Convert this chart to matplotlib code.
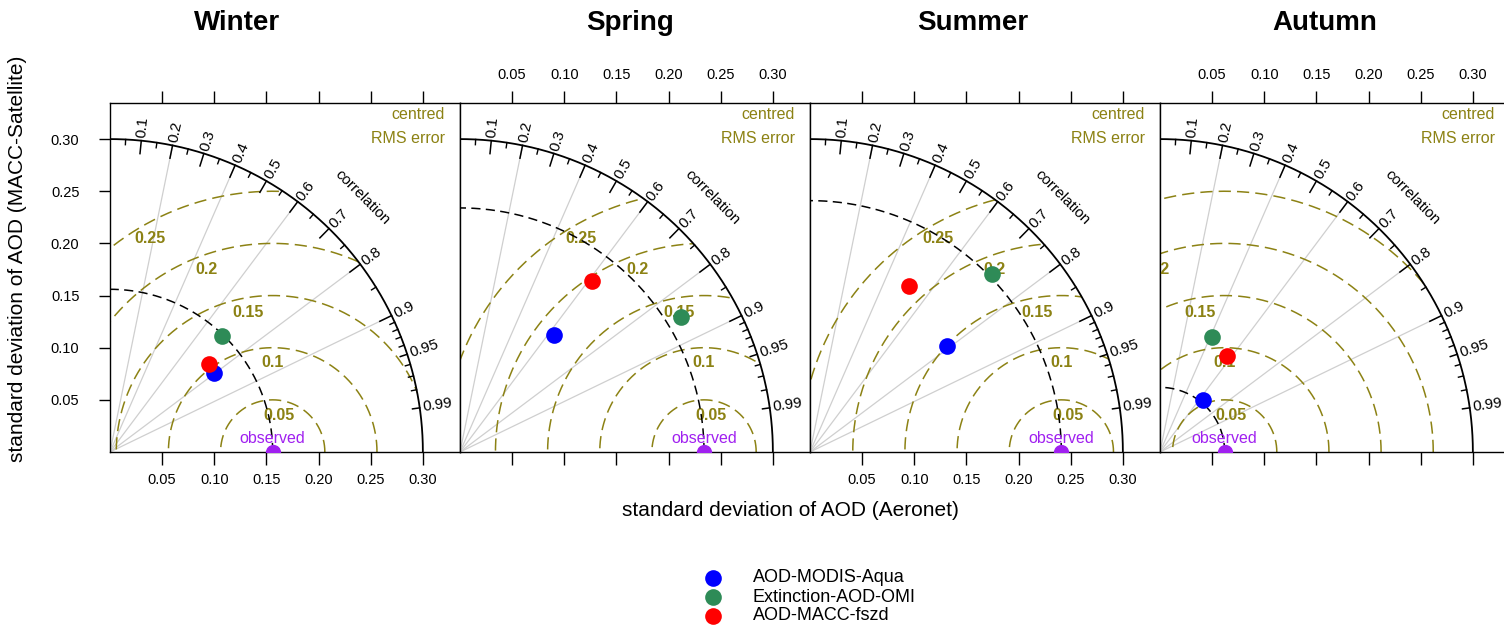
import numpy as np
import matplotlib.pyplot as plt
from matplotlib.patches import Circle
from matplotlib.lines import Line2D

plt.rcParams['font.family'] = ['Liberation Sans', 'DejaVu Sans']

seasons = ["Winter", "Spring", "Summer", "Autumn"]
models = ["AOD-MODIS-Aqua", "Extinction-AOD-OMI", "AOD-MACC-fszd"]
colours = ["#0000FF", "#2E8B57", "#FF0000"]

# standard deviation of the Aeronet AOD, per season
obs_sd = [0.156, 0.234, 0.241, 0.062]

# standard deviation / correlation of each model (rows = seasons, cols = models)
model_sd = [[0.125, 0.155, 0.127],
            [0.144, 0.248, 0.207],
            [0.166, 0.244, 0.185],
            [0.065, 0.121, 0.112]]
model_cor = [[0.795, 0.694, 0.746],
             [0.624, 0.854, 0.610],
             [0.791, 0.716, 0.511],
             [0.633, 0.409, 0.571]]

rms_levels = [0.05, 0.10, 0.15, 0.20, 0.25]
rms_labels = ["0.05", "0.1", "0.15", "0.2", "0.25"]
cor_labels = ["0.1", "0.2", "0.3", "0.4", "0.5", "0.6", "0.7", "0.8", "0.9", "0.95", "0.99"]
cor_lines = [0.2, 0.4, 0.6, 0.8, 0.9]
sd_ticks = [0.05, 0.10, 0.15, 0.20, 0.25, 0.30]
max_sd = 0.30

olive = "#8C8214"
purple = "#A020F0"

W, H = 1504, 626
fig = plt.figure(figsize=(W / 100, H / 100), dpi=100)

th = np.linspace(0, np.pi / 2, 300)
half = np.linspace(0, np.pi, 500)
minor = list(np.arange(0.05, 0.9, 0.1)) + [0.91, 0.92, 0.93, 0.94, 0.96, 0.97, 0.98]

for i, season in enumerate(seasons):
    ax = fig.add_axes([(110 + 350 * i) / W, (H - 452) / H, 350 / W, 349 / H])
    ax.set_xlim(0, 0.3356)
    ax.set_ylim(0, 0.3346)
    obs = obs_sd[i]

    # correlation lines
    for c in cor_lines:
        ax.plot([0, max_sd * c], [0, max_sd * np.sqrt(1 - c ** 2)],
                color="#cfcfcf", lw=0.9, zorder=1)

    # centred rms circles
    for k, r in enumerate(rms_levels):
        ln, = ax.plot(obs + r * np.cos(half), r * np.sin(half), color=olive,
                      lw=1.1, ls=(0, (8, 4)), zorder=2)
        ln.set_clip_path(Circle((0, 0), max_sd, transform=ax.transData))
        a = np.radians(80 + 10 * k)
        ax.text(obs + (r - 0.014) * np.cos(a), (r - 0.014) * np.sin(a), rms_labels[k],
                color=olive, fontsize=11.5, fontweight="bold", ha="center",
                va="center", clip_on=True, zorder=3)

    # outer arc and observed sd arc
    ax.plot(max_sd * np.cos(th), max_sd * np.sin(th), color="black", lw=1.3, zorder=3)
    ax.plot(obs * np.cos(th), obs * np.sin(th), color="black", lw=1.1,
            ls=(0, (6, 3.5)), zorder=3)

    # correlation ticks
    for lab in cor_labels:
        c = float(lab)
        s = np.sqrt(1 - c ** 2)
        tl = 0.0125 if c <= 0.9 else 0.007
        ax.plot([max_sd * c, (max_sd - tl) * c], [max_sd * s, (max_sd - tl) * s],
                color="black", lw=1.1, zorder=3)
        ax.text(0.303 * c, 0.303 * s, lab, rotation=np.degrees(np.arccos(c)),
                rotation_mode="anchor", ha="left", va="center", fontsize=11)
    for c in minor:
        s = np.sqrt(1 - c ** 2)
        ax.plot([max_sd * c, (max_sd - 0.005) * c], [max_sd * s, (max_sd - 0.005) * s],
                color="black", lw=1.0, zorder=3)
    a = np.radians(45.3)
    ax.text(0.344 * np.cos(a), 0.344 * np.sin(a), "correlation", rotation=-45,
            rotation_mode="anchor", ha="center", va="center", fontsize=11)

    ax.text(0.321, 0.324, "centred", color=olive, fontsize=11.5, ha="right", va="center")
    ax.text(0.321, 0.301, "RMS error", color=olive, fontsize=11.5, ha="right", va="center")

    # models
    for j in range(len(models)):
        c = model_cor[i][j]
        ax.plot(model_sd[i][j] * c, model_sd[i][j] * np.sqrt(1 - c ** 2), "o",
                color=colours[j], ms=12, mec="none", zorder=6)

    # observed
    ax.plot(obs, 0, "o", color=purple, ms=11, mec="none", zorder=6)
    ax.text(obs, 0.0134, "observed", color=purple, fontsize=11.5, ha="center",
            va="center", zorder=4)

    ax.set_xticks(sd_ticks)
    ax.set_xticklabels([f"{v:.2f}" for v in sd_ticks])
    ax.tick_params(axis="x", direction="out", top=True, bottom=True, length=9,
                   width=1, pad=6, labelsize=10.5,
                   labeltop=(i % 2 == 1), labelbottom=(i % 2 == 0))
    if i == 0:
        ax.set_yticks(sd_ticks)
        ax.set_yticklabels([f"{v:.2f}" for v in sd_ticks])
        ax.tick_params(axis="y", direction="out", length=8, width=1, pad=14,
                       labelsize=10.5)
    else:
        ax.set_yticks([])
    for sp in ax.spines.values():
        sp.set_linewidth(1.0)

title_x = [237, 630, 973, 1325]
for season, x in zip(seasons, title_x):
    fig.text(x / W, 1 - 23 / H, season, ha="center", va="center",
             fontsize=20, fontweight="bold")

fig.text(790 / W, 1 - 510 / H, "standard deviation of AOD (Aeronet)",
         ha="center", va="center", fontsize=15)
fig.text(18 / W, 1 - 259 / H, "standard deviation of AOD (MACC-Satellite)",
         ha="center", va="center", fontsize=15, rotation=90)

# legend
for j, name in enumerate(models):
    y = 1 - (578 + 19 * j) / H
    fig.add_artist(Line2D([713 / W], [y], marker="o", ms=12, color=colours[j],
                          mec="none", transform=fig.transFigure))
    fig.text(753 / W, y, name, ha="left", va="center", fontsize=13)

fig.savefig("out.png", dpi=100)
